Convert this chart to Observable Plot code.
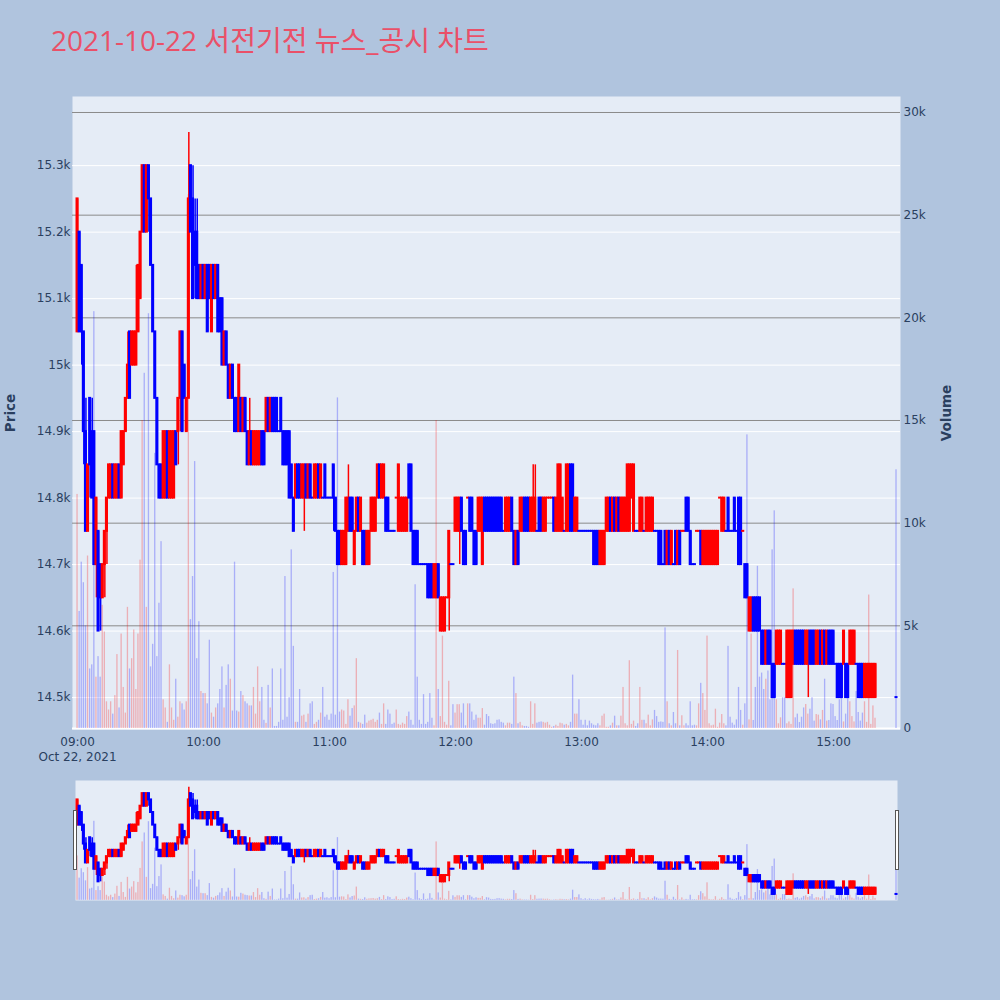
<!DOCTYPE html>
<html>
<head>
<meta charset="utf-8">
<script src="https://cdn.jsdelivr.net/npm/d3@7"></script>
<script src="https://cdn.jsdelivr.net/npm/@observablehq/plot@0.6"></script>
<style>
  html,body{margin:0;padding:0;}
  body{width:1000px;height:1000px;background:#b0c4de;position:relative;overflow:hidden;font-family:"DejaVu Sans",sans-serif;}
  #title{position:absolute;left:51px;top:26px;font-size:28px;line-height:28px;color:#ea5068;font-family:"Open Sans","Noto Sans CJK KR",sans-serif;white-space:nowrap;}
  .layer{position:absolute;left:0;}
  .layer svg{display:block;}
  .grab{position:absolute;width:2px;height:58px;background:#fff;border:1px solid #555;top:810px;}
</style>
</head>
<body>
<div id="title">2021-10-22 서전기전 뉴스_공시 차트</div>
<div id="main"></div>
<div id="slider"></div>
<div class="grab" style="left:73px"></div>
<div class="grab" style="left:895px"></div>
<script>
// ---------------- data (1-minute candles from 09:00; index = minutes after 09:00) ----------------
const startTime = new Date(2021, 9, 22, 9, 0, 0);
const dateLabel = "Oct 22, 2021";
const timeTicks = ["09:00","10:00","11:00","12:00","13:00","14:00","15:00"];
const priceTicks = [14500,14600,14700,14800,14900,15000,15100,15200,15300];
const volumeTicks = [0,5000,10000,15000,20000,25000,30000];

const open = [
15050,15200,15150,15050,14900,14750,14950,14900,14900,14700,
14750,14700,14650,14700,14750,14800,14800,14850,14800,14800,
14850,14800,14850,14900,14950,15050,15000,15000,15000,15050,
15100,15200,15300,15200,15300,15250,15150,15050,14950,14850,
14850,14800,14800,14900,14800,14800,14800,14900,14900,14950,
15050,15000,14900,14950,15300,15250,15200,15200,15150,15100,
15150,15100,15150,15150,15050,15150,15100,15150,15100,15100,
15000,15050,15000,14950,15000,14950,14950,14900,14950,14900,
14950,14900,14850,14900,14850,14850,14850,14850,14900,14900,
14900,14950,14900,14950,14950,14950,14900,14950,14900,14900,
14900,14900,14850,14800,14800,14850,14850,14800,14800,14850,
14800,14850,14800,14800,14800,14850,14800,14800,14850,14800,
14800,14800,14850,14800,14750,14750,14700,14700,14700,14750,
14800,14800,14700,14750,14800,14750,14750,14750,14700,14700,
14750,14750,14750,14800,14850,14800,14800,14800,14800,14750,
14750,14750,14800,14750,14750,14750,14750,14750,14850,14850,
14750,14750,14750,14700,14700,14700,14700,14700,14700,14700,
14650,14650,14700,14600,14600,14600,14650,14650,14700,14700,
14750,14750,14750,14800,14750,14750,14800,14800,14800,14750,
14750,14750,14750,14700,14800,14800,14800,14800,14800,14800,
14800,14800,14800,14750,14750,14750,14750,14800,14750,14700,
14750,14750,14750,14800,14800,14800,14750,14750,14750,14750,
14800,14800,14750,14750,14800,14800,14800,14800,14750,14750,
14750,14750,14750,14750,14750,14850,14850,14750,14750,14750,
14750,14750,14750,14750,14750,14750,14750,14750,14750,14700,
14700,14700,14750,14750,14800,14750,14800,14750,14800,14750,
14750,14750,14750,14750,14800,14750,14750,14750,14750,14750,
14750,14750,14750,14750,14750,14750,14750,14750,14750,14700,
14750,14700,14750,14700,14700,14750,14700,14750,14750,14750,
14800,14800,14750,14700,14700,14750,14750,14750,14700,14700,
14700,14700,14700,14700,14700,14700,14800,14750,14750,14750,
14800,14750,14750,14800,14750,14800,14800,14750,14700,14700,
14600,14600,14650,14650,14650,14650,14600,14600,14550,14600,
14600,14550,14550,14550,14550,14550,14550,14550,14500,14500,
14500,14550,14600,14600,14600,14600,14600,14550,14550,14600,
14600,14600,14550,14550,14600,14550,14600,14550,14600,14600,
14600,14550,14550,14550,14550,14550,14550,14550,14550,14550,
14550,14550,14550,14550,14550,14500,14500,14500,14500,14500,
14500,null,null,null,null,null,null,null,null,null,
14500];

const close = [
15250,15050,15050,14900,14750,14850,14850,14800,14700,14800,
14600,14650,14700,14750,14800,14850,14850,14800,14850,14850,
14800,14900,14900,14950,15000,14950,15050,15050,15050,15150,
15200,15300,15200,15300,15250,15150,15050,14950,14850,14800,
14800,14900,14900,14800,14900,14900,14900,14850,14950,15050,
14900,14950,14950,15250,15200,15100,15150,15100,15100,15150,
15100,15150,15050,15100,15150,15100,15150,15050,15050,15000,
15050,15000,14950,15000,14950,14900,14900,15000,14900,14950,
14900,14850,14900,14850,14900,14900,14900,14900,14850,14850,
14950,14900,14950,14900,14900,14900,14900,14900,14850,14850,
14850,14800,14800,14750,14850,14800,14800,14850,14850,14800,
14850,14800,14800,14850,14850,14800,14850,14800,14800,14800,
14800,14800,14800,14750,14700,14700,14750,14750,14800,14800,
14750,14750,14750,14800,14750,14800,14700,14700,14750,14750,
14800,14800,14800,14850,14800,14850,14850,14750,14750,14750,
14750,14750,14800,14850,14800,14800,14800,14800,14800,14750,
14700,14700,14700,14700,14700,14700,14700,14650,14650,14650,
14700,14700,14650,14650,14650,14650,14650,14750,14700,14700,
14800,14800,14800,14750,14700,14700,14800,14750,14750,14700,
14700,14800,14800,14800,14750,14750,14750,14750,14750,14750,
14750,14750,14750,14750,14800,14800,14800,14750,14700,14750,
14700,14800,14800,14750,14750,14750,14800,14800,14800,14750,
14750,14750,14800,14800,14800,14800,14800,14750,14800,14850,
14850,14800,14750,14850,14850,14750,14750,14800,14800,14750,
14750,14750,14750,14750,14750,14750,14700,14700,14700,14750,
14750,14750,14800,14800,14750,14800,14750,14800,14750,14800,
14800,14800,14850,14850,14850,14850,14750,14750,14800,14800,
14750,14800,14800,14800,14800,14750,14750,14700,14700,14700,
14700,14750,14700,14750,14700,14700,14750,14700,14750,14750,
14750,14750,14700,14700,14700,14750,14750,14700,14750,14750,
14750,14750,14750,14750,14750,14750,14800,14800,14800,14750,
14750,14750,14750,14750,14750,14700,14700,14750,14650,14650,
14650,14650,14600,14600,14600,14600,14550,14550,14600,14550,
14550,14500,14500,14600,14600,14600,14550,14550,14600,14600,
14600,14600,14550,14550,14550,14550,14550,14600,14600,14550,
14550,14550,14600,14600,14550,14600,14550,14600,14550,14550,
14550,14550,14500,14500,14500,14600,14500,14500,14600,14600,
14600,14550,14500,14500,14500,14550,14550,14550,14550,14550,
14550,null,null,null,null,null,null,null,null,null,
14500];

const high = [
15250,15200,15150,15050,14950,14850,14950,14950,14900,14800,
14750,14700,14700,14750,14800,14850,14850,14850,14850,14850,
14850,14900,14900,14950,15050,15050,15050,15050,15150,15150,
15200,15300,15300,15300,15300,15250,15150,15050,14950,14850,
14850,14900,14900,14900,14900,14900,14900,14900,14950,15050,
15050,15000,14950,15350,15300,15300,15250,15250,15150,15150,
15150,15150,15150,15150,15150,15150,15150,15150,15100,15100,
15050,15050,15000,15000,15000,14950,14950,15000,14950,14950,
14950,14900,14950,14900,14900,14900,14900,14900,14900,14900,
14950,14950,14950,14950,14950,14950,14900,14950,14900,14900,
14900,14900,14850,14800,14850,14850,14850,14850,14850,14850,
14850,14850,14800,14850,14850,14850,14850,14800,14850,14800,
14800,14800,14850,14800,14750,14750,14750,14750,14800,14850,
14800,14800,14750,14800,14800,14800,14750,14750,14750,14750,
14800,14800,14800,14850,14850,14850,14850,14800,14800,14750,
14750,14750,14800,14850,14800,14800,14800,14800,14850,14850,
14750,14750,14750,14700,14700,14700,14700,14700,14700,14700,
14700,14700,14700,14650,14650,14650,14650,14750,14700,14700,
14800,14800,14800,14800,14750,14750,14800,14800,14800,14750,
14750,14800,14800,14800,14800,14800,14800,14800,14800,14800,
14800,14800,14800,14750,14800,14800,14800,14800,14750,14750,
14750,14800,14800,14800,14800,14800,14800,14850,14850,14750,
14800,14800,14800,14800,14800,14800,14800,14800,14800,14850,
14850,14800,14750,14850,14850,14850,14850,14800,14800,14750,
14750,14750,14750,14750,14750,14750,14750,14750,14750,14750,
14750,14750,14800,14800,14800,14800,14800,14800,14800,14800,
14800,14800,14850,14850,14850,14850,14750,14750,14800,14800,
14750,14800,14800,14800,14800,14750,14750,14750,14750,14700,
14750,14750,14750,14750,14700,14750,14750,14750,14750,14750,
14800,14800,14750,14700,14700,14750,14750,14750,14750,14750,
14750,14750,14750,14750,14750,14750,14800,14800,14800,14750,
14800,14750,14750,14800,14750,14800,14800,14750,14700,14700,
14650,14650,14650,14650,14650,14650,14600,14600,14600,14600,
14600,14550,14550,14600,14600,14600,14550,14550,14600,14600,
14600,14600,14600,14600,14600,14600,14600,14600,14600,14600,
14600,14600,14600,14600,14600,14600,14600,14600,14600,14600,
14600,14550,14550,14550,14550,14600,14550,14550,14600,14600,
14600,14550,14550,14550,14550,14550,14550,14550,14550,14550,
14550,null,null,null,null,null,null,null,null,null,
14500];

const low = [
15050,15050,15000,14850,14750,14750,14800,14800,14700,14650,
14600,14600,14650,14650,14700,14800,14800,14800,14800,14800,
14800,14800,14850,14900,14950,14950,15000,15000,15000,15050,
15100,15200,15200,15200,15200,15150,15050,14950,14850,14800,
14800,14800,14800,14800,14800,14800,14800,14850,14850,14900,
14900,14950,14900,14950,15200,15100,15100,15100,15100,15100,
15100,15100,15050,15100,15050,15100,15100,15050,15050,15000,
15000,15000,14950,14950,14950,14900,14900,14900,14900,14900,
14900,14850,14850,14850,14850,14850,14850,14850,14850,14850,
14900,14900,14900,14900,14900,14900,14900,14900,14850,14850,
14850,14800,14800,14750,14800,14800,14800,14800,14750,14800,
14800,14800,14800,14800,14800,14800,14800,14800,14800,14800,
14800,14800,14750,14750,14700,14700,14700,14700,14700,14750,
14750,14750,14700,14750,14750,14750,14700,14700,14700,14700,
14750,14750,14750,14800,14800,14800,14800,14750,14750,14750,
14750,14750,14800,14750,14750,14750,14750,14750,14800,14750,
14700,14700,14700,14700,14700,14700,14700,14650,14650,14650,
14650,14650,14650,14600,14600,14600,14650,14600,14700,14700,
14750,14750,14700,14750,14700,14700,14800,14750,14750,14700,
14700,14750,14750,14700,14750,14750,14750,14750,14750,14750,
14750,14750,14750,14750,14750,14750,14750,14750,14700,14700,
14700,14750,14750,14750,14750,14750,14750,14750,14750,14750,
14750,14750,14750,14750,14800,14800,14800,14750,14750,14750,
14750,14750,14750,14750,14750,14750,14750,14750,14750,14750,
14750,14750,14750,14750,14750,14750,14700,14700,14700,14700,
14700,14700,14750,14750,14750,14750,14750,14750,14750,14750,
14750,14750,14750,14750,14800,14750,14750,14750,14750,14750,
14750,14750,14750,14750,14750,14750,14750,14700,14700,14700,
14700,14700,14700,14700,14700,14700,14700,14700,14750,14750,
14750,14750,14700,14700,14700,14750,14750,14700,14700,14700,
14700,14700,14700,14700,14700,14700,14800,14750,14750,14750,
14750,14750,14750,14750,14750,14700,14700,14750,14650,14650,
14600,14600,14600,14600,14600,14600,14550,14550,14550,14550,
14550,14500,14500,14550,14550,14550,14550,14550,14500,14500,
14500,14550,14550,14550,14550,14550,14550,14550,14500,14550,
14550,14550,14550,14550,14550,14550,14550,14550,14550,14550,
14550,14550,14500,14500,14500,14550,14500,14500,14550,14550,
14550,14550,14500,14500,14500,14500,14500,14500,14500,14500,
14500,null,null,null,null,null,null,null,null,null,
14500];

const volume = [
11400,5700,8100,7100,5000,8400,2900,3100,20300,2500,
3500,2500,6000,4700,1300,900,1300,700,1600,3600,
1000,4600,2000,750,5900,2900,3400,4800,1900,4600,
8200,15000,17300,5900,20200,3000,4100,13400,3500,6100,
9100,1400,1000,300,3100,1000,400,2400,550,1300,
1200,900,1300,26000,5300,7400,13000,3400,5200,1800,
1700,1700,1200,4300,750,550,1000,1200,1900,3000,
1000,2100,3100,2400,850,8100,850,800,1800,1600,
1300,1200,1100,1100,2000,700,3000,1300,2000,400,
250,2100,1000,2900,100,100,300,2900,400,7400,
550,1500,8700,4000,300,300,1900,600,650,300,
700,1200,1300,200,300,400,750,2000,550,650,
400,700,7600,650,16100,800,900,850,200,1400,
600,970,1100,3400,300,260,200,650,260,360,
400,450,300,400,750,200,1200,200,900,700,
200,260,900,200,160,260,200,580,800,400,
160,7000,2500,400,200,1650,200,300,1700,500,
130,15000,1900,580,4500,300,160,2300,130,1160,
750,1160,1160,750,1200,130,1200,1200,800,400,
650,500,500,970,160,680,580,230,200,230,
400,420,300,260,130,260,260,200,2500,1700,
230,300,130,100,100,60,1300,200,1200,260,
300,320,300,260,300,160,60,100,160,100,
260,230,160,200,130,300,2600,700,700,1400,
400,160,400,130,360,230,160,130,230,130,
600,700,60,60,130,260,600,130,130,600,
2000,230,130,3300,200,360,100,230,2000,400,
400,230,650,130,420,880,580,300,320,300,
4900,1300,230,130,780,230,3800,130,620,130,
230,130,1300,130,160,130,1200,2200,1700,880,
4500,230,130,160,940,60,260,680,230,130,
4000,550,260,160,420,2000,880,160,1200,14300,
420,4600,390,2000,7900,2500,2700,1900,2400,2800,
1400,8700,10600,1400,230,520,1500,1500,230,320,
200,6800,520,700,290,550,1000,1170,700,940,
1500,360,680,650,420,880,2400,360,390,1200,
1170,580,390,1400,1500,320,700,2100,1300,580,
320,1800,780,360,750,1300,300,6500,200,1100,
500,null,null,null,null,null,null,null,null,null,
12600];

// ---------------- build rows ----------------
const MIN = 60000;
const rows = [];
open.forEach((o, i) => {
  if (o == null) return;
  rows.push({t: new Date(+startTime + i * MIN), o, c: close[i], h: high[i], l: low[i], v: volume[i]});
});
// plotly direction rule: close vs open, ties decided by previous close
let prevClose = null, prevDir = -1;
rows.forEach(r => {
  let dir;
  if (r.c > r.o) dir = 1;
  else if (r.c < r.o) dir = -1;
  else if (prevClose != null && r.c > prevClose) dir = 1;
  else if (prevClose != null && r.c < prevClose) dir = -1;
  else dir = prevDir;
  r.dir = dir; prevDir = dir; prevClose = r.c;
});
const RED = "#ff0000", BLUE = "#0000ff";
const col = d => d.dir > 0 ? RED : BLUE;

const xDomain = [new Date(+startTime - 2.4 * MIN), new Date(+startTime + 391.9 * MIN)];
const priceDomain = [14452, 15404];
const volDomain = [-49, 30779];
const tickTimes = timeTicks.map(s => { const [h, m] = s.split(":").map(Number); return new Date(2021, 9, 22, h, m); });
const fmtK = v => v === 0 ? "0" : (v / 1000) + "k";
const font = {background: "transparent", color: "#2a3f5f", fontSize: "12px", fontFamily: "'DejaVu Sans', sans-serif", overflow: "visible"};

const bodyX1 = d => new Date(+d.t - 15000);
const bodyX2 = d => new Date(+d.t + 15000);
const barX1 = d => new Date(+d.t - 19000);
const barX2 = d => new Date(+d.t + 19000);

function addLayer(parent, top, opts) {
  const div = document.createElement("div");
  div.className = "layer";
  div.style.top = top + "px";
  div.appendChild(Plot.plot(opts));
  document.getElementById(parent).appendChild(div);
}

const mainBox = {width: 1000, height: 770, marginLeft: 72, marginRight: 100, marginTop: 96, marginBottom: 41, style: font};

// layer A: background, volume grid + right axis
addLayer("main", 0, {
  ...mainBox,
  x: {domain: xDomain, axis: null},
  y: {domain: volDomain, axis: null},
  marks: [
    Plot.frame({fill: "#e5ecf6", stroke: null}),
    Plot.ruleY(volumeTicks.filter(v => v > 0), {stroke: "#8a8a8a", strokeWidth: 1}),
    Plot.ruleY([0], {stroke: "#ffffff", strokeWidth: 2}),
    Plot.axisY({anchor: "right", ticks: volumeTicks, tickFormat: fmtK, tickSize: 0, tickPadding: 3, label: null}),
    Plot.text(["Volume"], {frameAnchor: "right", dx: 46, rotate: -90, textAnchor: "middle", fontWeight: "bold", fontSize: 13.5, fill: "#2a3f5f"})
  ]
});

// layer B: price grid, candles, left axis, time axis
addLayer("main", 0, {
  ...mainBox,
  color: {type: "identity"},
  x: {domain: xDomain},
  y: {domain: priceDomain},
  marks: [
    Plot.ruleY(priceTicks, {stroke: "#ffffff", strokeWidth: 1}),
    Plot.ruleX(rows, {x: "t", y1: "l", y2: "h", stroke: col, strokeWidth: 1.5}),
    Plot.rect(rows, {x1: bodyX1, x2: bodyX2, y1: "o", y2: "c", fill: col, insetTop: -1, insetBottom: -1, insetLeft: -1, insetRight: -1}),
    Plot.axisY({ticks: priceTicks, tickFormat: fmtK, tickSize: 0, tickPadding: 2, label: null}),
    Plot.axisX({ticks: tickTimes, tickFormat: d3.timeFormat("%H:%M"), tickSize: 0, tickPadding: 8, label: null}),
    Plot.text([tickTimes[0]], {x: d => d, frameAnchor: "bottom", lineAnchor: "middle", dy: 28, text: () => dateLabel, fill: "#2a3f5f"}),
    Plot.text(["Price"], {frameAnchor: "left", dx: -62, rotate: -90, textAnchor: "middle", fontWeight: "bold", fontSize: 13.5, fill: "#2a3f5f"})
  ]
});

// layer C: volume bars
addLayer("main", 0, {
  ...mainBox,
  color: {type: "identity"},
  x: {domain: xDomain, axis: null},
  y: {domain: volDomain, axis: null},
  marks: [
    Plot.rect(rows, {x1: barX1, x2: barX2, y1: () => 0, y2: "v", fill: col, fillOpacity: 0.26})
  ]
});

// range slider
const sliderBox = {width: 1000, height: 120, marginLeft: 72, marginRight: 100, marginTop: 0, marginBottom: 0, style: font};
addLayer("slider", 780, {
  ...sliderBox,
  color: {type: "identity"},
  x: {domain: xDomain, axis: null},
  y: {domain: priceDomain, axis: null},
  marks: [
    Plot.frame({fill: "#e5ecf6", stroke: null, insetLeft: 3, insetRight: 3}),
    Plot.ruleX(rows, {x: "t", y1: "l", y2: "h", stroke: col, strokeWidth: 1.5}),
    Plot.rect(rows, {x1: bodyX1, x2: bodyX2, y1: "o", y2: "c", fill: col, insetTop: -1, insetBottom: -1, insetLeft: -1, insetRight: -1})
  ]
});
addLayer("slider", 780, {
  ...sliderBox,
  color: {type: "identity"},
  x: {domain: xDomain, axis: null},
  y: {domain: volDomain, axis: null},
  marks: [
    Plot.rect(rows, {x1: barX1, x2: barX2, y1: () => 0, y2: "v", fill: col, fillOpacity: 0.26})
  ]
});
</script>
</body>
</html>
